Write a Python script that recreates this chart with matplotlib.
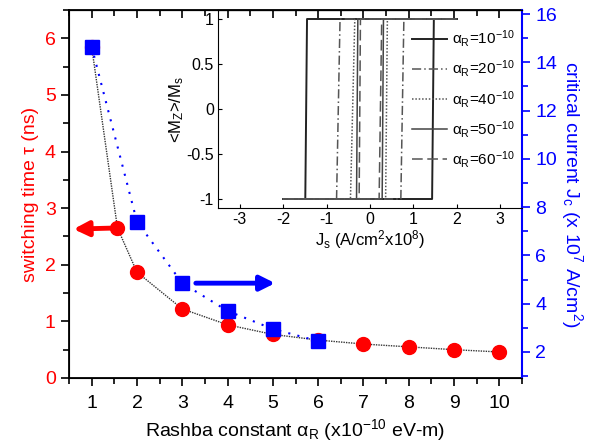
import matplotlib
matplotlib.use("Agg")
import matplotlib.pyplot as plt

plt.rcParams['font.family'] = ['Liberation Sans', 'DejaVu Sans']
plt.rcParams['mathtext.fontset'] = 'custom'
plt.rcParams['mathtext.rm'] = 'Liberation Sans'
plt.rcParams['mathtext.it'] = 'Liberation Sans'
plt.rcParams['mathtext.default'] = 'regular'

# switching time (left axis, red circles)
tau_x = [1, 1.57, 2, 3, 4, 5, 6, 7, 8, 9, 10]
tau_ns = [5.85, 2.65, 1.87, 1.22, 0.94, 0.77, 0.67, 0.60, 0.55, 0.50, 0.46]

# critical current (right axis, blue squares)
jc_x = [1, 2, 3, 4, 5, 6]
jc_val = [14.65, 7.4, 4.85, 3.7, 2.95, 2.45]

# inset hysteresis loops: switching currents (up bottom, up top, down top, down bottom)
loop_labels = [r'$\alpha_R$=10$^{-10}$', r'$\alpha_R$=20$^{-10}$', r'$\alpha_R$=40$^{-10}$',
               r'$\alpha_R$=50$^{-10}$', r'$\alpha_R$=60$^{-10}$']
loop_up_bot = [1.43, 0.71, 0.36, 0.28, 0.21]
loop_up_top = [1.47, 0.78, 0.40, 0.31, 0.27]
loop_dn_top = [-1.45, -0.69, -0.35, -0.28, -0.22]
loop_dn_bot = [-1.49, -0.77, -0.45, -0.31, -0.25]
loop_styles = ['-', (0, (6, 2, 1, 2)), (0, (1, 1.2)), '-', (0, (7, 3))]
loop_colors = ['#222222', '#555555', '#555555', '#444444', '#555555']
loop_widths = [1.4, 1.1, 1.1, 1.1, 1.1]
j_min, j_max = -2, 2

fig = plt.figure(figsize=(6.12, 4.47), dpi=100)
ax = fig.add_axes([69 / 612, 1 - 378 / 447, (522 - 69) / 612, 368 / 447])
ax2 = ax.twinx()

ax.plot(tau_x, tau_ns, color='#333333', lw=1.0, ls=(0, (1, 0.8)), zorder=2)
ax.plot(tau_x, tau_ns, 'o', color='red', ms=10, zorder=3, clip_on=False)
ax.set_xlim(0.5, 10.5)
ax.set_ylim(0, 6.5)
ax.set_xticks(range(1, 11))
ax.set_xticks([x + 0.5 for x in range(0, 11)], minor=True)
ax.set_yticks(range(0, 7))
ax.set_yticks([y + 0.5 for y in range(0, 7)], minor=True)
ax.tick_params(axis='x', which='both', direction='out', labelsize=14, pad=6)
ax.tick_params(axis='x', which='major', length=6, width=1.2)
ax.tick_params(axis='x', which='minor', length=4, width=1.2)
ax.tick_params(axis='y', which='major', length=6, width=1.2, colors='black', labelcolor='red', labelsize=14)
ax.tick_params(axis='y', which='minor', length=4, width=1.2)
ax.set_xlabel(r'Rashba constant $\alpha_R$ (x10$^{-10}$ eV-m)', fontsize=14, labelpad=4)
ax.set_ylabel('switching time τ (ns)', fontsize=14, color='red', labelpad=4)
for s in ax.spines.values():
    s.set_linewidth(1.3)

# mirrored top ticks pointing inward
top = ax.secondary_xaxis('top')
top.set_xticks(range(1, 11))
top.set_xticks([x + 0.5 for x in range(0, 11)], minor=True)
top.tick_params(which='both', direction='in', labeltop=False, width=1.2)
top.tick_params(which='major', length=6)
top.tick_params(which='minor', length=4)

ax2.plot(jc_x, jc_val, color='blue', lw=1.5, ls=(0, (1, 3.5)), zorder=2)
ax2.plot(jc_x, jc_val, 's', color='blue', ms=10, zorder=4)
ax2.set_ylim(0.92, 16.17)
ax2.set_yticks(range(2, 17, 2))
ax2.set_yticks(range(1, 17, 2), minor=True)
ax2.tick_params(axis='y', which='both', colors='blue', labelsize=14)
ax2.tick_params(axis='y', which='major', length=6, width=1.2)
ax2.tick_params(axis='y', which='minor', length=4, width=1.2)
ax2.spines['right'].set_color('blue')
ax2.spines['right'].set_linewidth(1.5)
ax2.set_ylabel(r'critical current J$_c$ (x 10$^7$ A/cm$^2$)', fontsize=14, color='blue',
               rotation=270, labelpad=20)

# direction arrows
ax.annotate('', xy=(0.6, 2.63), xytext=(1.57, 2.65),
            arrowprops=dict(arrowstyle='-|>', lw=3.5, color='red', mutation_scale=22,
                            shrinkA=0, shrinkB=0))
ax2.annotate('', xy=(5.05, 4.85), xytext=(3.3, 4.85),
             arrowprops=dict(arrowstyle='-|>', lw=3.5, color='blue', mutation_scale=22,
                             shrinkA=0, shrinkB=0))

# inset
axi = fig.add_axes([218 / 612, 1 - 208 / 447, (522 - 218) / 612, 198 / 447])
for i in range(len(loop_labels)):
    xs = [j_min, loop_up_bot[i], loop_up_top[i], j_max, loop_dn_top[i], loop_dn_bot[i], j_min]
    ys = [-1, -1, 1, 1, 1, -1, -1]
    axi.plot(xs, ys, ls=loop_styles[i], color=loop_colors[i], lw=loop_widths[i],
             label=loop_labels[i])
axi.set_xlim(-3.5, 3.5)
axi.set_ylim(-1.1, 1.1)
axi.set_xticks([-3, -2, -1, 0, 1, 2, 3])
axi.set_yticks([-1, -0.5, 0, 0.5, 1])
axi.set_yticklabels(['-1', '-0.5', '0', '0.5', '1'])
axi.set_xticklabels(['-3', '-2', '-1', '0', '1', '2', '3'])
axi.tick_params(direction='in', length=3, labelsize=11.5, pad=3)
axi.spines['right'].set_visible(False)
axi.set_xlabel(r'J$_s$ (A/cm$^2$x10$^8$)', fontsize=12, labelpad=1)
axi.set_ylabel(r'<M$_Z$>/M$_s$', fontsize=12, labelpad=0)
axi.legend(loc='center right', bbox_to_anchor=(1.0, 0.55), frameon=False, fontsize=11,
           handlelength=2.3, handletextpad=0.3, labelspacing=0.6, borderpad=0)
axi.patch.set_alpha(0)

fig.savefig('out.png', dpi=100)
